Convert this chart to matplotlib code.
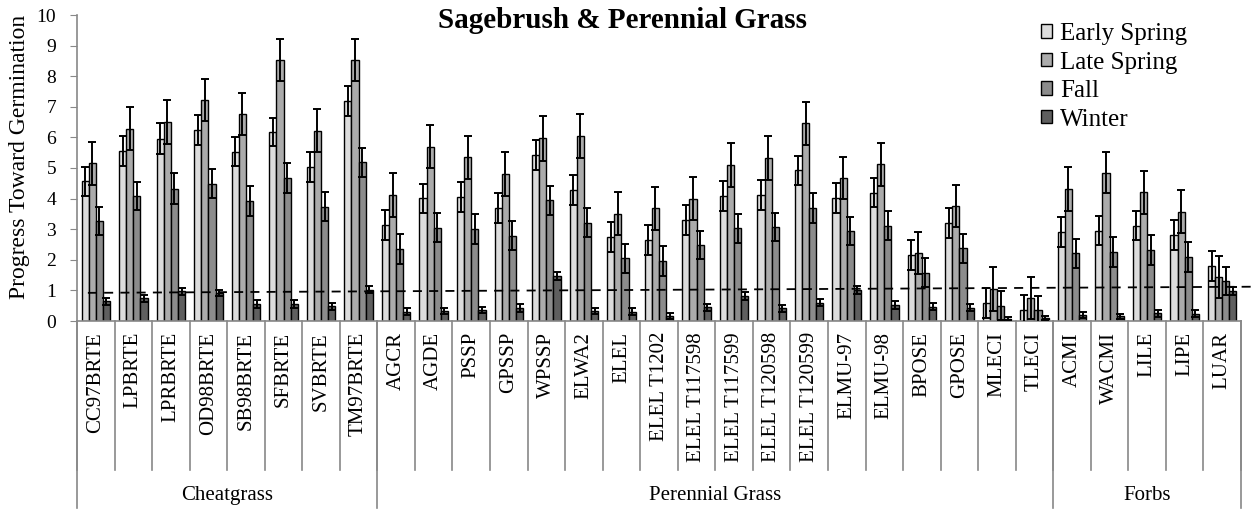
import matplotlib
matplotlib.use('Agg')
import matplotlib.pyplot as plt
import matplotlib.transforms as mtransforms
import numpy as np

plt.rcParams['font.family'] = ['Liberation Serif', 'DejaVu Serif']

# Category labels and groups
species = ["CC97BRTE", "LPBRTE", "LPRBRTE", "OD98BRTE", "SB98BRTE", "SFBRTE", "SVBRTE", "TM97BRTE",
           "AGCR", "AGDE", "PSSP", "GPSSP", "WPSSP", "ELWA2", "ELEL", "ELEL T1202",
           "ELEL T117598", "ELEL T117599", "ELEL T120598", "ELEL T120599", "ELMU-97", "ELMU-98",
           "BPOSE", "GPOSE", "MLECI", "TLECI",
           "ACMI", "WACMI", "LILE", "LIPE", "LUAR"]
groups = ["Cheatgrass", "Perennial Grass", "Forbs"]
group_sizes = [8, 18, 5]

# Means per season
early_spring = [4.57, 5.57, 5.96, 6.25, 5.53, 6.18, 5.04, 7.18,
                3.14, 4.01, 4.06, 3.70, 5.42, 4.28, 2.73, 2.65,
                3.30, 4.08, 4.12, 4.93, 4.01, 4.19, 2.16, 3.19, 0.58, 0.36,
                2.90, 2.95, 3.12, 2.81, 1.80]
late_spring = [5.15, 6.28, 6.50, 7.23, 6.76, 8.52, 6.22, 8.53,
               4.12, 5.70, 5.35, 4.80, 5.97, 6.05, 3.50, 3.68,
               3.99, 5.10, 5.32, 6.46, 4.68, 5.12, 2.21, 3.76, 1.04, 0.76,
               4.31, 4.85, 4.20, 3.57, 1.43]
fall = [3.27, 4.09, 4.33, 4.49, 3.92, 4.66, 3.73, 5.18,
        2.34, 3.05, 3.01, 2.79, 3.95, 3.21, 2.05, 1.96,
        2.48, 3.03, 3.08, 3.70, 2.94, 3.12, 1.58, 2.37, 0.50, 0.36,
        2.21, 2.25, 2.32, 2.10, 1.31]
winter = [0.64, 0.74, 0.97, 0.91, 0.55, 0.56, 0.48, 1.02,
          0.31, 0.33, 0.36, 0.43, 1.48, 0.33, 0.30, 0.17,
          0.45, 0.82, 0.41, 0.60, 1.01, 0.52, 0.47, 0.43, 0.08, 0.10,
          0.20, 0.15, 0.25, 0.24, 0.99]

# Standard errors
early_err = [0.47, 0.49, 0.50, 0.49, 0.48, 0.47, 0.49, 0.49,
             0.49, 0.47, 0.49, 0.49, 0.50, 0.49, 0.49, 0.49,
             0.49, 0.50, 0.49, 0.47, 0.49, 0.47, 0.49, 0.49, 0.49, 0.49,
             0.49, 0.48, 0.48, 0.49, 0.49]
late_err = [0.69, 0.70, 0.71, 0.69, 0.69, 0.69, 0.70, 0.70,
            0.71, 0.71, 0.71, 0.71, 0.73, 0.71, 0.70, 0.69,
            0.70, 0.71, 0.71, 0.70, 0.69, 0.71, 0.69, 0.70, 0.72, 0.69,
            0.71, 0.68, 0.70, 0.71, 0.69]
fall_err = [0.47, 0.46, 0.50, 0.48, 0.50, 0.49, 0.47, 0.47,
            0.49, 0.47, 0.48, 0.48, 0.47, 0.48, 0.48, 0.49,
            0.47, 0.47, 0.46, 0.49, 0.47, 0.48, 0.47, 0.48, 0.48, 0.47,
            0.47, 0.49, 0.49, 0.49, 0.46]
winter_err = [0.12, 0.12, 0.12, 0.10, 0.12, 0.12, 0.12, 0.12,
              0.11, 0.11, 0.11, 0.12, 0.13, 0.11, 0.11, 0.09,
              0.12, 0.12, 0.12, 0.11, 0.12, 0.12, 0.11, 0.11, 0.05, 0.06,
              0.10, 0.09, 0.11, 0.11, 0.13]

seasons = ["Early Spring", "Late Spring", "Fall", "Winter"]
colors = ["#dcdcdc", "#ababab", "#8c8c8c", "#5f5f5f"]

# dashed reference line (start / end values)
ref_start, ref_end = 0.92, 1.12

fig = plt.figure(figsize=(12.51, 5.12), dpi=100)
ax = fig.add_axes([77 / 1251, 1 - 321 / 512, (1241 - 77) / 1251, (321 - 15) / 512])

x = np.arange(len(species))
w = 0.19
series = [(early_spring, early_err), (late_spring, late_err), (fall, fall_err), (winter, winter_err)]
for k, (vals, errs) in enumerate(series):
    pos = x + (k - 1.5) * w
    ax.bar(pos, vals, w, color=colors[k], edgecolor="black", linewidth=1.0,
           label=seasons[k], zorder=2)
    ax.errorbar(pos, vals, yerr=errs, fmt="none", ecolor="black", elinewidth=1.4,
                capsize=3.2, capthick=1.4, zorder=3)

ax.plot([-0.21, 30.76], [ref_start, ref_end], color="black", linestyle=(0, (5, 4)),
        linewidth=1.3, clip_on=False, zorder=4)

ax.set_xlim(-0.5, len(species) - 0.5)
ax.set_ylim(0, 10)
ax.set_yticks(range(0, 11))
ax.tick_params(axis="y", labelsize=14, length=5, color="#888888", direction="out", pad=10)
ax.set_xticks(x)
ax.set_xticklabels(species, rotation=90, fontsize=15)
ax.tick_params(axis="x", length=0, pad=8)
for lab in ax.get_xticklabels():
    lab.set_verticalalignment("top")

for s in ["top", "right"]:
    ax.spines[s].set_visible(False)
for s in ["left", "bottom"]:
    ax.spines[s].set_color("#888888")
    ax.spines[s].set_linewidth(1.2)

ax.set_ylabel("Progress Toward Germination", fontsize=17)
ax.yaxis.set_label_coords(-47 / 1164, 0.537)

# hierarchical x axis lines
trans = mtransforms.blended_transform_factory(ax.transData, ax.transAxes)
for b in np.arange(-0.5, len(species), 1.0):
    ax.plot([b, b], [0, -0.487], transform=trans, color="#888888", linewidth=1.2, clip_on=False)
edges = np.concatenate([[0], np.cumsum(group_sizes)]) - 0.5
for b in edges:
    ax.plot([b, b], [0, -0.611], transform=trans, color="#888888", linewidth=1.2, clip_on=False)
for g, lo, hi in zip(groups, edges[:-1], edges[1:]):
    ax.text((lo + hi) / 2, -0.569, g, transform=trans, ha="center", va="center", fontsize=15)

fig.text(622 / 1251, 1 - 21 / 512, "Sagebrush & Perennial Grass", ha="center", va="center",
         fontsize=21, fontweight="bold")

ax.legend(loc="upper left", bbox_to_anchor=(1041 / 1251, 1 - 23 / 512), bbox_transform=fig.transFigure,
          frameon=False, fontsize=18, handlelength=0.45, handleheight=0.45, handletextpad=0.3,
          labelspacing=0.26, borderpad=0, borderaxespad=0)

fig.savefig("out.png", dpi=100)
